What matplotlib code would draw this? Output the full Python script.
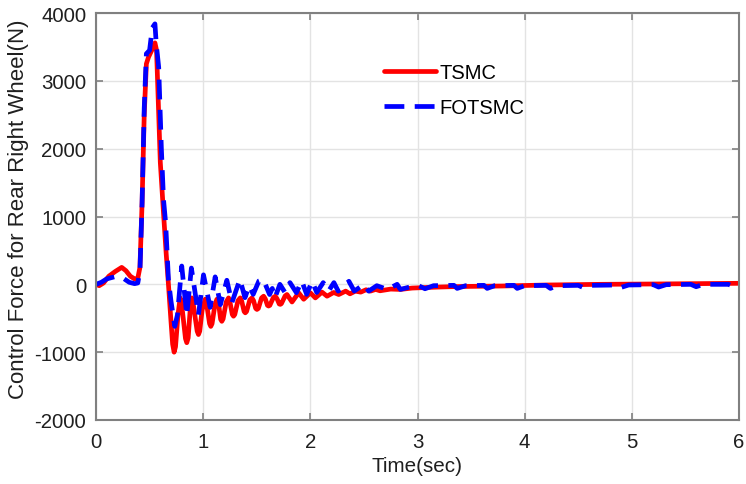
import matplotlib
matplotlib.use("Agg")
import matplotlib.pyplot as plt

plt.rcParams['font.family'] = ['Liberation Sans', 'DejaVu Sans']
plt.rcParams['axes.unicode_minus'] = False

# ---- data ----
tsmc_t = [0, 0.03, 0.07, 0.12, 0.18, 0.24, 0.28, 0.32, 0.36, 0.39, 0.41, 0.43, 0.45, 0.47,
          0.49, 0.52, 0.55, 0.565, 0.58, 0.60, 0.63, 0.655, 0.676, 0.70, 0.715, 0.729, 0.742,
          0.765, 0.785, 0.80, 0.835, 0.847, 0.86, 0.88, 0.894, 0.91, 0.944, 0.956, 0.968,
          0.99, 1.019, 1.035, 1.06, 1.071, 1.083, 1.11, 1.128, 1.145, 1.163, 1.174, 1.186,
          1.215, 1.237, 1.25, 1.272, 1.283, 1.295, 1.325, 1.346, 1.36, 1.382, 1.393, 1.405,
          1.435, 1.455, 1.47, 1.49, 1.502, 1.515, 1.545, 1.564, 1.58, 1.60, 1.61, 1.622,
          1.655, 1.673, 1.69, 1.71, 1.72, 1.73, 1.765, 1.782, 1.829, 1.891, 1.938,
          2.00, 2.047, 2.109, 2.156, 2.218, 2.265, 2.33, 2.37, 2.42, 2.47, 2.52, 2.56,
          2.61, 2.65, 2.75, 2.84, 2.95, 3.03, 3.2, 3.31, 3.5, 3.78, 4.2, 4.71, 5.2, 5.6, 6.0]
tsmc_v = [0, -20, 20, 120, 190, 250, 200, 120, 80, 90, 250, 1200, 2500, 3250,
          3350, 3450, 3560, 3450, 2750, 1800, 1050, 450, 0, -550, -880, -1000, -920,
          -450, -200, -300, -800, -860, -790, -350, -200, -320, -690, -740, -690,
          -380, -220, -320, -580, -620, -580, -300, -220, -300, -515, -545, -510,
          -260, -200, -260, -445, -470, -445, -240, -200, -250, -400, -420, -400,
          -230, -200, -240, -355, -370, -355, -200, -175, -215, -310, -320, -310,
          -195, -175, -215, -290, -295, -285, -170, -150, -260, -125, -220,
          -125, -200, -115, -175, -120, -150, -100, -140, -100, -115, -80, -100,
          -75, -95, -70, -75, -55, -50, -40, -35, -30, -25, -10, 0, 5, 10, 15]

fotsmc_t = [0, 0.05, 0.10, 0.17, 0.25, 0.31, 0.36, 0.39, 0.41, 0.43, 0.45, 0.47, 0.50,
            0.525, 0.55, 0.562, 0.585, 0.61, 0.63, 0.65, 0.676, 0.70, 0.735, 0.76,
            0.80, 0.847, 0.89, 0.956, 1.003, 1.065, 1.112, 1.16, 1.221, 1.268, 1.343,
            1.39, 1.43, 1.467, 1.52, 1.56, 1.62, 1.645, 1.67, 1.716, 1.765, 1.81,
            1.87, 1.92, 1.966, 2.016, 2.06, 2.12, 2.17, 2.22, 2.26, 2.36, 2.41, 2.50,
            2.545, 2.62, 2.72, 2.81, 2.84, 2.95, 3.01, 3.07, 3.15, 3.34, 3.37, 3.45,
            3.62, 3.65, 3.72, 3.90, 3.93, 4.00, 4.20, 4.24, 4.30, 4.50, 4.55, 4.62,
            4.85, 4.90, 4.97, 5.20, 5.25, 5.32, 5.55, 5.60, 5.67, 5.90, 5.95, 6.0]
fotsmc_v = [0, 30, 80, 110, 95, 30, 10, 20, 200, 1200, 2600, 3400, 3450,
            3780, 3840, 3550, 3200, 2000, 1250, 900, 70, -250, -620, -450,
            270, -460, 240, -450, 140, -340, 110, -300, 60, -270, 74,
            -197, -20, -148, 50, 74, -150, -60, -197, 0, -123, 25,
            -123, 49, -148, 45, -120, 25, -100, 25, -100, 45, -100, 0,
            -100, -20, -75, 0, -75, -30, -20, -65, -20, -15, -60, -20,
            -15, -60, -20, -15, -60, -20, -15, -60, -20, -15, -50, -15,
            -10, -45, -10, -5, -40, -5, 0, -35, 0, 0, -30, 0]

xticks = [0, 1, 2, 3, 4, 5, 6]
yticks = [-2000, -1000, 0, 1000, 2000, 3000, 4000]

# ---- figure ----
fig = plt.figure(figsize=(7.46, 4.85), dpi=100)
ax = fig.add_axes([96/746, 1 - 421/485, (739-96)/746, (421-14)/485])

ax.plot(tsmc_t, tsmc_v, color=(1, 0, 0), lw=3.4, label='TSMC',
        solid_joinstyle='round', solid_capstyle='round')
ax.plot(fotsmc_t, fotsmc_v, color=(0, 0, 1), lw=3.4, linestyle=(0, (4.2, 2.2)),
        label='FOTSMC', dash_capstyle='butt')

ax.set_xlim(0, 6)
ax.set_ylim(-2000, 4000)
ax.set_xticks(xticks)
ax.set_yticks(yticks)
ax.grid(True, color=(0.89, 0.89, 0.89), lw=1.0)
ax.set_axisbelow(True)

for s in ax.spines.values():
    s.set_color((0.5, 0.5, 0.5))
    s.set_linewidth(1.5)

tc = (0.12, 0.12, 0.12)
ax.tick_params(direction='in', length=5, width=1.2, color=(0.5, 0.5, 0.5),
               top=True, right=True, labelsize=14.7, labelcolor=tc)
ax.tick_params(axis='x', pad=9)
ax.tick_params(axis='y', pad=7)

ax.set_xlabel('Time(sec)', fontsize=14.9, color=tc, labelpad=3)
ax.set_ylabel('Control Force for Rear Right Wheel(N)', fontsize=16, color=tc)
ax.yaxis.set_label_coords(-0.104, 0.52)

leg = fig.legend(loc='upper left', bbox_to_anchor=(384/746, 1 - 64/485), frameon=False,
                 fontsize=14.5, handlelength=2.6, handletextpad=0.15, labelspacing=0.78,
                 borderpad=0, borderaxespad=0)

fig.savefig('out.png', dpi=100)
